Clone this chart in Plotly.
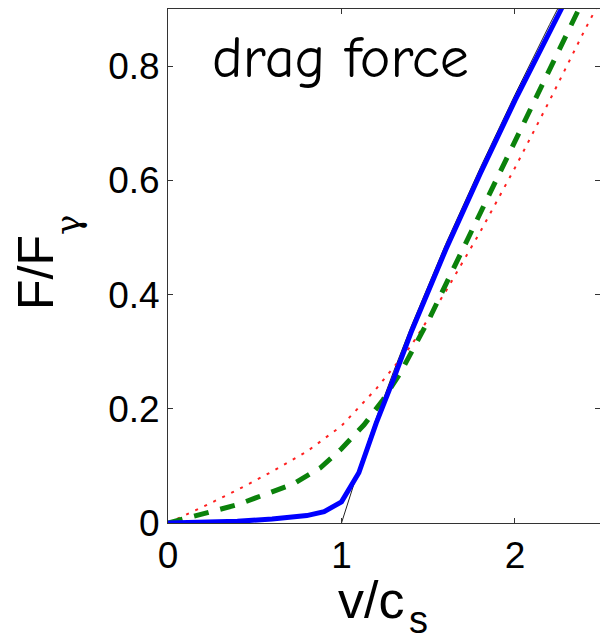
import plotly.graph_objects as go

# ---- data ----
v_blue = [0, 0.2, 0.4, 0.6, 0.8, 0.9, 1.0, 1.1, 1.2, 1.3, 1.4, 1.6, 1.8, 2.0, 2.2, 2.3]
F_blue = [0, 0.001, 0.003, 0.007, 0.013, 0.02, 0.037, 0.088, 0.175, 0.252, 0.333, 0.478, 0.612, 0.74, 0.862, 0.92]

v_black = [1.0, 1.1, 1.2, 1.3, 1.4, 1.6, 1.8, 2.0, 2.2, 2.35]
F_black = [0, 0.095, 0.183, 0.265, 0.343, 0.488, 0.622, 0.75, 0.873, 0.962]

v_green = [0, 0.22, 0.4, 0.55, 0.72, 0.88, 1.0, 1.13, 1.24, 1.34, 1.51, 1.6, 1.8, 2.0, 2.2, 2.4]
F_green = [0, 0.017, 0.032, 0.049, 0.068, 0.097, 0.13, 0.172, 0.216, 0.263, 0.36, 0.417, 0.543, 0.669, 0.795, 0.92]

v_red = [0, 0.2, 0.4, 0.6, 0.8, 1.0, 1.2, 1.4, 1.6, 1.8, 2.0, 2.2, 2.4, 2.5]
F_red = [0, 0.028, 0.058, 0.09, 0.125, 0.17, 0.235, 0.31, 0.405, 0.51, 0.622, 0.74, 0.862, 0.92]

x_ticks = [0, 1, 2]
x_ticktext = ["0", "1", "2"]
y_ticks = [0, 0.2, 0.4, 0.6, 0.8]
y_ticktext = ["0", "0.2", "0.4", "0.6", "0.8"]

fig = go.Figure()
fig.add_trace(go.Scatter(x=v_black, y=F_black, mode="lines",
                         line=dict(color="#222222", width=1)))
fig.add_trace(go.Scatter(x=v_red, y=F_red, mode="lines",
                         line=dict(color="#ff2020", width=2, dash="3px,7px")))
fig.add_trace(go.Scatter(x=v_green, y=F_green, mode="lines",
                         line=dict(color="#0b820b", width=5, dash="15px,12px")))
fig.add_trace(go.Scatter(x=v_blue, y=F_blue, mode="lines",
                         line=dict(color="#0000ff", width=5)))
fig.add_trace(go.Scatter(x=[], y=[], yaxis="y2", showlegend=False))

axis_font = dict(family="Liberation Sans, Arial, sans-serif", size=37, color="black")

fig.update_layout(
    width=600, height=644,
    margin=dict(l=168, r=0, t=9, b=121),
    paper_bgcolor="white", plot_bgcolor="white",
    showlegend=False,
    xaxis=dict(range=[0, 2.49], tickvals=x_ticks, ticktext=x_ticktext,
               ticks="inside", ticklen=5, tickcolor="#333", tickwidth=1,
               showline=True, linecolor="#333", linewidth=1, mirror="ticks",
               showgrid=False, zeroline=False, tickfont=axis_font),
    yaxis=dict(range=[0, 0.9], tickvals=y_ticks, ticktext=y_ticktext,
               ticks="inside", ticklen=5, tickcolor="#333", tickwidth=1,
               showline=True, linecolor="#333", linewidth=1,
               showgrid=False, zeroline=False, tickfont=axis_font),
    yaxis2=dict(range=[0, 0.9], tickvals=y_ticks, overlaying="y", side="right",
                ticks="inside", ticklen=5, tickcolor="#333", showticklabels=False,
                showline=False, showgrid=False, zeroline=False),
    annotations=[
        dict(text="drag force", xref="paper", yref="paper",
             x=(340 - 168) / 432, y=(523 - 58) / 514, xanchor="center", yanchor="middle",
             showarrow=False,
             font=dict(family="Comic Sans MS, Comic Neue, Noto Sans, sans-serif", size=58, color="black")),
        dict(text="v/c", xref="paper", yref="paper",
             x=(371 - 168) / 432, y=(523 - 600) / 514, xanchor="center", yanchor="middle",
             showarrow=False,
             font=dict(family="Liberation Sans, Arial, sans-serif", size=52, color="black")),
        dict(text="s", xref="paper", yref="paper",
             x=(418 - 168) / 432, y=(523 - 643) / 514, xanchor="center", yanchor="bottom",
             showarrow=False,
             font=dict(family="Liberation Sans, Arial, sans-serif", size=38, color="black")),
        dict(text="F/F", xref="paper", yref="paper", textangle=-90,
             x=(36 - 168) / 432, y=(523 - 273) / 514, xanchor="center", yanchor="middle",
             showarrow=False,
             font=dict(family="Liberation Sans, Arial, sans-serif", size=50, color="black")),
        dict(text="γ", xref="paper", yref="paper", textangle=-90,
             x=(68 - 168) / 432, y=(523 - 225) / 514, xanchor="center", yanchor="middle",
             showarrow=False,
             font=dict(family="DejaVu Serif, serif", size=34, color="black")),
    ],
)

fig.write_html("out.html")
